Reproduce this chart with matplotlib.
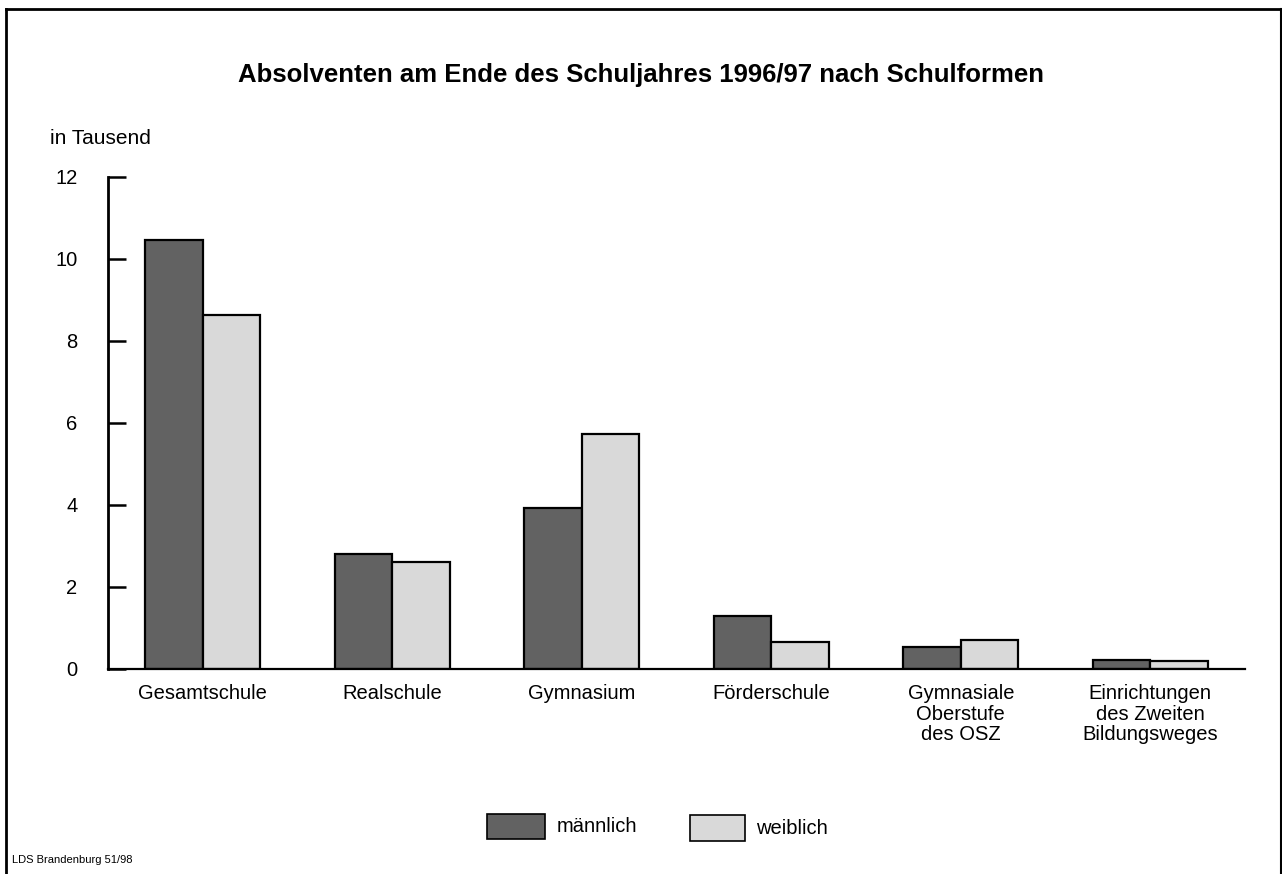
import matplotlib
matplotlib.use("Agg")
import matplotlib.pyplot as plt
from matplotlib.patches import Rectangle
import numpy as np

# -------------------------------------
# Data (in Tausend)
# -------------------------------------
categories = ["Gesamtschule", "Realschule", "Gymnasium", "Förderschule",
              "Gymnasiale\nOberstufe\ndes OSZ",
              "Einrichtungen\ndes Zweiten\nBildungsweges"]
maennlich = [10.45, 2.80, 3.93, 1.29, 0.54, 0.22]
weiblich = [8.63, 2.61, 5.73, 0.66, 0.71, 0.20]
yticks = [0, 2, 4, 6, 8, 10, 12]

plt.rcParams['font.family'] = ['Liberation Sans', 'DejaVu Sans']

DARK = "#626262"
LIGHT = "#d9d9d9"

fig = plt.figure(figsize=(12.82, 8.74), dpi=100)
ax = fig.add_axes([0.0842, 0.2346, 0.887, 0.563])

x = np.arange(len(categories))
w = 0.303
ax.bar(x - w / 2, maennlich, width=w, color=DARK, edgecolor="black", linewidth=1.6)
ax.bar(x + w / 2, weiblich, width=w, color=LIGHT, edgecolor="black", linewidth=1.6)

ax.set_xlim(-0.5, 5.5)
ax.set_ylim(0, 12)
ax.set_yticks(yticks)
ax.set_yticklabels([str(v) for v in yticks], fontsize=14.5)
ax.set_xticks(x)
ax.set_xticklabels(categories, fontsize=14.5, linespacing=1.1)
ax.tick_params(axis='x', length=0, pad=11)
ax.tick_params(axis='y', direction='in', length=13, width=1.8, pad=22)
for s in ["top", "right"]:
    ax.spines[s].set_visible(False)
ax.spines["left"].set_linewidth(2)
ax.spines["bottom"].set_linewidth(1.6)

fig.text(0.5, 0.914, "Absolventen am Ende des Schuljahres 1996/97 nach Schulformen",
         ha="center", va="center", fontsize=18.5, fontweight="bold")
fig.text(0.039, 0.841, "in Tausend", ha="left", va="center", fontsize=15)
fig.text(0.009, 0.016, "LDS Brandenburg 51/98", ha="left", va="center", fontsize=8)

# legend
fig.patches.append(Rectangle((0.380, 0.040), 0.045, 0.029, transform=fig.transFigure,
                             facecolor=DARK, edgecolor="black", linewidth=1.2))
fig.text(0.434, 0.054, "männlich", ha="left", va="center", fontsize=14.5)
fig.patches.append(Rectangle((0.538, 0.038), 0.043, 0.029, transform=fig.transFigure,
                             facecolor=LIGHT, edgecolor="black", linewidth=1.2))
fig.text(0.590, 0.052, "weiblich", ha="left", va="center", fontsize=14.5)

# frame
fig.add_artist(plt.Line2D([0.005, 0.005], [0.0, 0.99], transform=fig.transFigure,
                          color="black", linewidth=2))
fig.add_artist(plt.Line2D([0.005, 0.999], [0.99, 0.99], transform=fig.transFigure,
                          color="black", linewidth=2))
fig.add_artist(plt.Line2D([0.999, 0.999], [0.0, 0.99], transform=fig.transFigure,
                          color="black", linewidth=1.5))

fig.savefig("out.png", dpi=100)
